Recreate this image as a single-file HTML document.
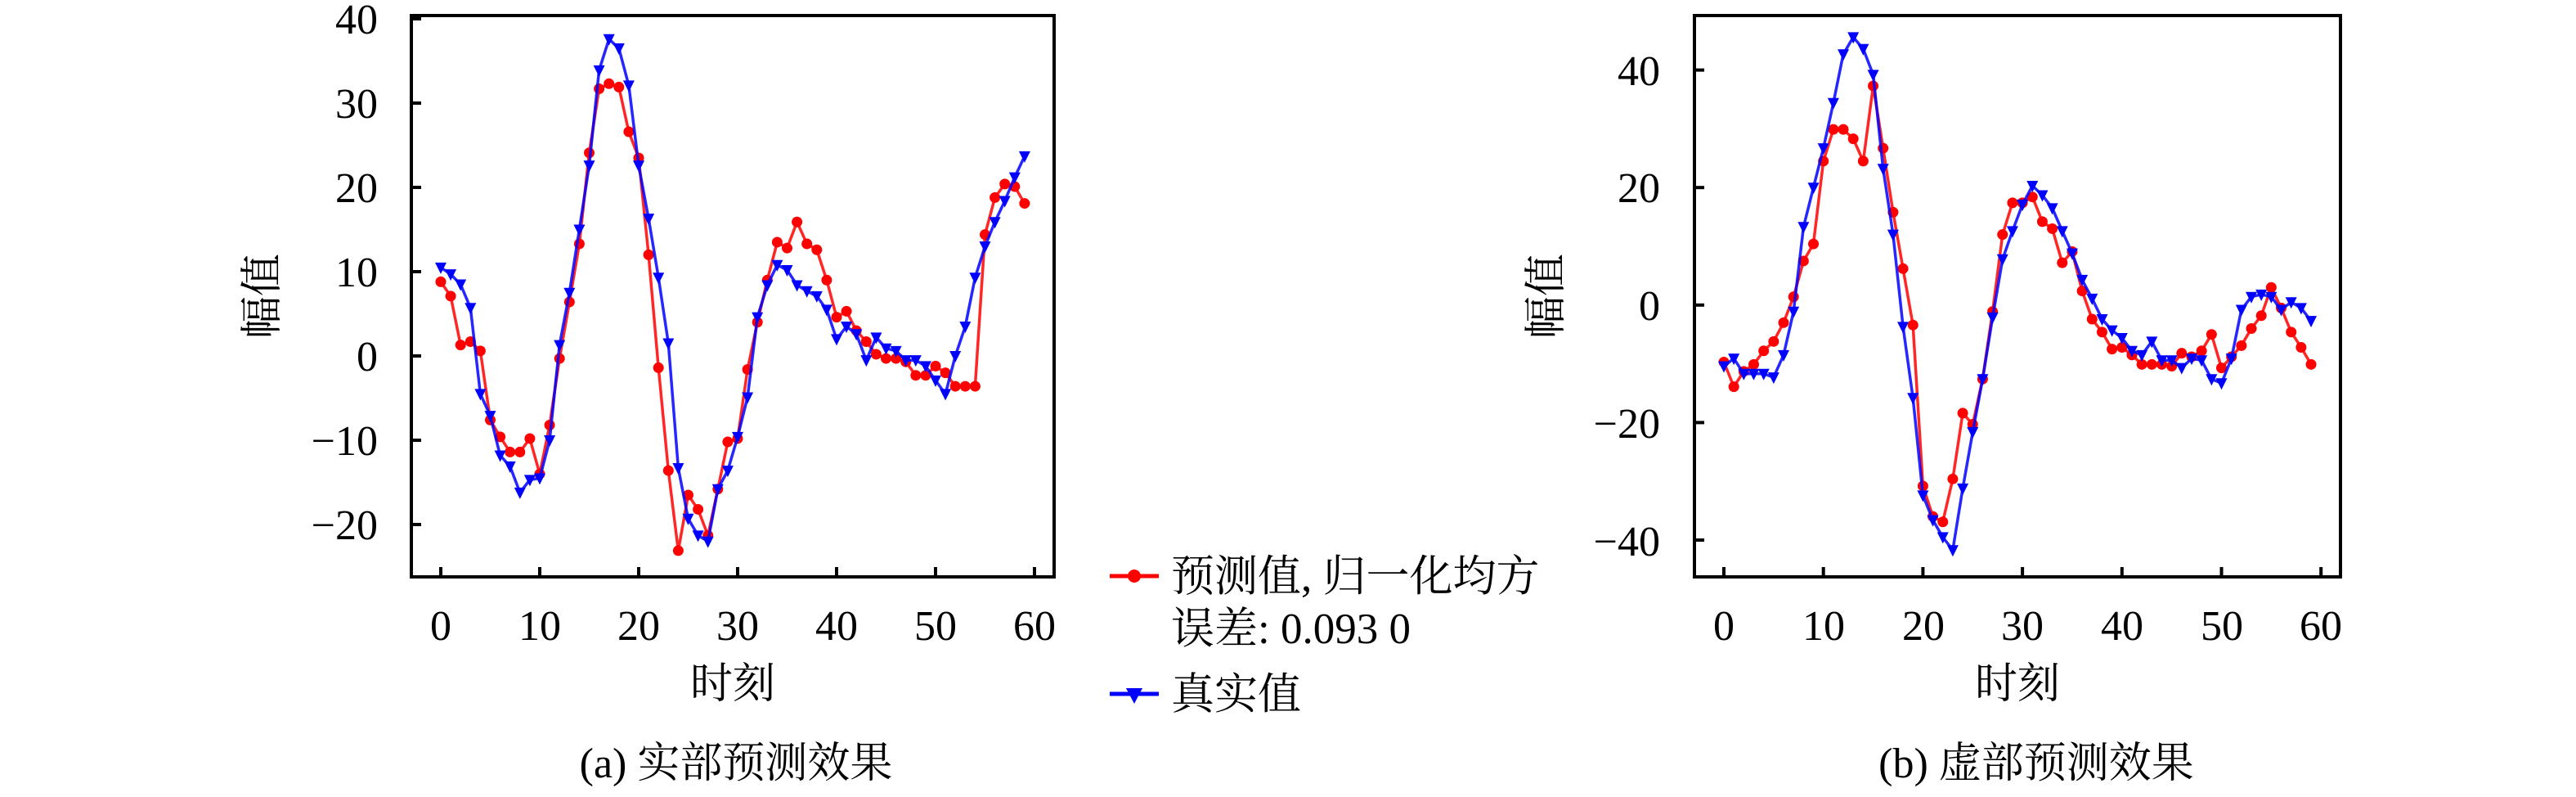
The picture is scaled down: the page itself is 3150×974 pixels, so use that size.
<!DOCTYPE html>
<html><head><meta charset="utf-8"><style>
html,body{margin:0;padding:0;background:#fff;}
svg{display:block;}
text{font-family:"Liberation Serif","Noto Serif CJK SC",serif;fill:#000;}
</style></head><body>
<svg id="s" width="3150" height="974" xmlns="http://www.w3.org/2000/svg">
<rect width="3150" height="974" fill="#fff"/>
<rect x="503" y="19" width="786" height="686" fill="none" stroke="#000" stroke-width="4"/>
<rect x="2072" y="19" width="790" height="686" fill="none" stroke="#000" stroke-width="4"/>
<g id="ticks" stroke="#000" stroke-width="4"></g>
<g id="series"></g>
<g font-size="52" text-anchor="end" font-family="Liberation Serif, Noto Serif CJK SC, serif">
<text x="462" y="41">40</text>
<text x="462" y="144">30</text>
<text x="462" y="247">20</text>
<text x="462" y="350">10</text>
<text x="462" y="453">0</text>
<text x="462" y="556">−10</text>
<text x="462" y="659">−20</text>
<text x="2030" y="104">40</text>
<text x="2030" y="247">20</text>
<text x="2030" y="391">0</text>
<text x="2030" y="535">−20</text>
<text x="2030" y="679">−40</text>
</g>
<g font-size="52" text-anchor="middle" font-family="Liberation Serif, Noto Serif CJK SC, serif">
<text x="539" y="782">0</text><text x="660" y="782">10</text><text x="781" y="782">20</text><text x="902" y="782">30</text><text x="1023" y="782">40</text><text x="1144" y="782">50</text><text x="1265" y="782">60</text>
<text x="2108" y="782">0</text><text x="2230" y="782">10</text><text x="2352" y="782">20</text><text x="2473" y="782">30</text><text x="2595" y="782">40</text><text x="2717" y="782">50</text><text x="2838" y="782">60</text>
<text x="896" y="853">时刻</text>
<text x="2467" y="853">时刻</text>
<text x="900" y="950">(a) 实部预测效果</text>
<text x="2490" y="950">(b) 虚部预测效果</text>
<text transform="translate(338,362) rotate(-90)">幅值</text>
<text transform="translate(1908,362) rotate(-90)">幅值</text>
</g>
<line x1="1357" y1="704" x2="1417" y2="704" stroke="#f00" stroke-width="5"/>
<circle cx="1387" cy="704" r="8" fill="#f00"/>
<line x1="1357" y1="848" x2="1417" y2="848" stroke="#00f" stroke-width="5"/>
<polygon points="1377,841 1397,841 1387,860" fill="#00f"/>
<g font-size="53" font-family="Liberation Serif, Noto Serif CJK SC, serif">
<text x="1432" y="722">预测值, 归一化均方</text>
<text x="1432" y="786">误差: 0.093 0</text>
<text x="1432" y="866">真实值</text>
</g>
</svg>
<script>
const NS="http://www.w3.org/2000/svg";
const T=document.getElementById('ticks'),S=document.getElementById('series');
function ln(x1,y1,x2,y2){const l=document.createElementNS(NS,'line');l.setAttribute('x1',x1);l.setAttribute('y1',y1);l.setAttribute('x2',x2);l.setAttribute('y2',y2);T.appendChild(l);}
const LX=t=>539+t*12.1, LY=v=>23+(40-v)*10.3;
const RX=t=>2108+t*12.17, RY=v=>372.8-v*7.18;
for(let v=-20;v<=40;v+=10){ln(503,LY(v),515,LY(v));}
for(let t=0;t<=60;t+=10){ln(LX(t),705,LX(t),693);}
for(let v=-40;v<=40;v+=20){ln(2072,RY(v),2084,RY(v));}
for(let t=0;t<=60;t+=10){ln(RX(t),705,RX(t),693);}
const lb=[10.5,9.7,8.5,5.7,-4.5,-7.1,-11.8,-13.1,-16.2,-14.7,-14.5,-10,1.3,7.5,15,22.6,33.9,37.6,36.5,32.1,22.6,16.3,9.3,1.5,-13.3,-19.3,-21.3,-22,-15.8,-13.6,-9.6,-4.9,4.6,8.4,10.8,10.2,8.4,7.7,7.1,5.5,2,3.5,2.6,-0.5,2.2,0.9,0.6,-0.5,-0.5,-1.2,-2.9,-4.5,0,3.5,9.3,13,15.9,18.4,21.2,23.7];
const lr=[8.8,7.1,1.3,1.7,0.6,-7.6,-9.6,-11.4,-11.4,-9.8,-14,-8.2,-0.3,6.4,13.3,24.1,31.7,32.3,31.9,26.6,23.5,12,-1.4,-13.6,-23.1,-16.5,-18.2,-21.3,-15.8,-10.2,-9.8,-1.6,4,9,13.5,12.8,15.9,13.3,12.6,9,4.6,5.3,3,1.7,0.2,-0.3,-0.3,-0.7,-2.3,-2.3,-1.2,-2,-3.6,-3.6,-3.6,14.4,18.8,20.4,20.1,18.1];
const rb=[-10.4,-9.1,-11.7,-11.7,-11.7,-12.3,-8.5,-1.1,13.3,20,26.7,34.4,42.7,45.6,43.6,39.2,23.2,12,-3.7,-15.8,-32.4,-36.6,-39.5,-41.7,-31.2,-21.6,-12.6,-2.1,7.8,12.6,17.1,20.3,18.7,16.5,12.6,8.8,4.3,1.1,-2.4,-4.3,-5.6,-7.8,-8.5,-6.2,-9.4,-9.4,-10.7,-9.1,-9.4,-12.6,-13.3,-9.1,-0.8,1.4,1.8,1.4,-0.8,0.5,-0.5,-2.7];
const rr=[-9.7,-13.9,-11.3,-10.1,-7.8,-6.2,-3,1.4,7.5,10.4,24.5,29.9,29.9,28.3,24.5,37.3,26.7,15.8,6.2,-3.4,-30.8,-36,-36.9,-29.6,-18.4,-20.3,-12.6,-1.1,12,17.4,17.4,18.4,14.2,13,7.2,9.1,2.4,-2.4,-4.6,-7.5,-7.2,-8.5,-10.1,-10.1,-10.1,-10.4,-8.2,-8.8,-7.8,-5,-10.7,-8.8,-6.9,-4,-1.8,3,-0.5,-4.6,-7.2,-10.1];
function series(d,X,Y,col,tri){
 const pts=d.map((v,i)=>X(i).toFixed(1)+','+Y(v).toFixed(1)).join(' ');
 const p=document.createElementNS(NS,'polyline');p.setAttribute('points',pts);p.setAttribute('fill','none');p.setAttribute('stroke',col);p.setAttribute('stroke-width','3.5');p.setAttribute('stroke-opacity','0.85');S.appendChild(p);
 d.forEach((v,i)=>{const x=X(i),y=Y(v);let m;
  if(tri){m=document.createElementNS(NS,'polygon');m.setAttribute('points',`${x-7},${y-6} ${x+7},${y-6} ${x},${y+8}`);}
  else{m=document.createElementNS(NS,'circle');m.setAttribute('cx',x);m.setAttribute('cy',y);m.setAttribute('r',6.5);}
  m.setAttribute('fill',col);S.appendChild(m);});
}
series(lr,LX,LY,'#f00',false);
series(lb,LX,LY,'#00f',true);
series(rr,RX,RY,'#f00',false);
series(rb,RX,RY,'#00f',true);
</script>
</body></html>
